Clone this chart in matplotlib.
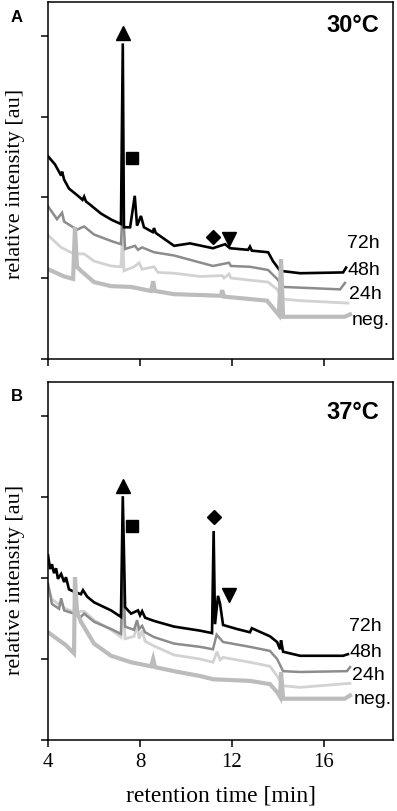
import matplotlib
matplotlib.use("Agg")
import matplotlib.pyplot as plt

# --- chromatogram traces (time [min], relative intensity) ---
# panel A, 30 C
a72_t = [4.0, 4.3, 4.57, 4.61, 4.7, 4.91, 5.3, 5.5, 5.57, 5.65, 5.83, 6.3, 6.78, 7.17, 7.25, 7.3, 7.57,
         7.77, 7.87, 8.04, 8.17, 8.55, 8.61, 8.68, 9.48, 10.17, 11.17, 11.7, 11.91, 12.7, 12.78, 12.86,
         13.57, 13.78, 14.09, 14.96, 16.83, 16.96]
a72_v = [2.51, 2.41, 2.27, 2.32, 2.22, 2.11, 2.02, 1.97, 2.01, 1.95, 1.91, 1.8, 1.72, 1.67, 3.91, 1.63, 1.63,
         2.02, 1.65, 1.77, 1.63, 1.57, 1.62, 1.56, 1.4, 1.43, 1.37, 1.42, 1.37, 1.35, 1.39, 1.34,
         1.32, 1.21, 1.09, 1.06, 1.07, 1.13]
a48_t = [4.0, 4.39, 4.61, 4.7, 5.26, 5.57, 6.0, 6.74, 7.17, 7.25, 7.35, 7.78, 7.91, 8.09, 8.61, 9.48,
         11.17, 11.87, 11.95, 12.78, 13.57, 13.96, 14.22, 16.7, 16.91]
a48_v = [1.89, 1.73, 1.81, 1.7, 1.6, 1.64, 1.54, 1.46, 1.42, 1.91, 1.36, 1.4, 1.35, 1.38, 1.32, 1.28,
         1.15, 1.19, 1.15, 1.14, 1.1, 0.99, 0.89, 0.86, 0.94]
a24_t = [4.0, 4.57, 5.13, 5.57, 6.0, 6.74, 7.17, 7.25, 7.3, 7.74, 7.96, 8.09, 8.61, 8.78, 9.48, 10.61,
         11.57, 11.65, 11.87, 11.95, 13.57, 13.96, 14.22, 14.96, 17.04]
a24_v = [1.53, 1.38, 1.3, 1.3, 1.21, 1.15, 1.14, 1.6, 1.09, 1.14, 1.19, 1.11, 1.14, 1.07, 1.06, 1.02,
         1.03, 1.0, 1.05, 1.0, 0.95, 0.86, 0.74, 0.72, 0.69]
aneg_t = [4.0, 4.7, 5.09, 5.17, 5.26, 5.43, 6.0, 6.74, 7.61, 8.48, 8.57, 8.65, 9.48, 10.61, 11.52, 11.57,
          11.65, 13.52, 13.78, 14.04, 14.13, 14.22, 16.9, 17.13]
aneg_v = [1.11, 1.02, 0.99, 1.63, 1.14, 1.09, 0.95, 0.9, 0.89, 0.84, 0.96, 0.84, 0.8, 0.79, 0.78, 0.85,
          0.77, 0.72, 0.63, 0.54, 1.23, 0.52, 0.52, 0.55]

# panel B, 37 C
b72_t = [4.0, 4.09, 4.17, 4.26, 4.35, 4.43, 4.57, 4.7, 4.78, 4.91, 5.13, 5.43, 5.52, 5.7, 6.0, 6.74, 7.17,
         7.25, 7.35, 7.61, 7.91, 8.0, 8.09, 8.22, 8.61, 9.48, 10.61, 11.13, 11.2, 11.26, 11.39, 11.48,
         11.61, 12.22, 12.78, 12.86, 13.65, 13.96, 14.09, 14.13, 14.22, 14.96, 16.83, 17.04]
b72_v = [2.28, 2.11, 2.17, 2.06, 2.12, 1.99, 2.05, 1.95, 2.01, 1.86, 1.83, 1.8, 1.85, 1.77, 1.7, 1.6, 1.52,
         3.01, 1.64, 1.56, 1.6, 1.54, 1.59, 1.51, 1.47, 1.4, 1.35, 1.32, 2.58, 1.43, 1.78, 1.68,
         1.42, 1.37, 1.33, 1.38, 1.28, 1.21, 1.12, 1.23, 1.09, 1.04, 1.04, 1.06]
b48_t = [4.0, 4.17, 4.48, 4.57, 4.7, 5.13, 5.43, 5.57, 6.0, 6.74, 7.17, 7.25, 7.35, 7.74, 7.87, 7.96, 8.09,
         8.22, 8.61, 9.48, 10.61, 11.17, 11.33, 11.61, 12.78, 13.65, 13.96, 14.22, 14.96, 17.0, 17.13]
b48_v = [1.93, 1.68, 1.62, 1.75, 1.6, 1.56, 1.52, 1.56, 1.46, 1.37, 1.31, 2.11, 1.4, 1.36, 1.48, 1.37, 1.41,
         1.33, 1.27, 1.19, 1.15, 1.12, 1.3, 1.21, 1.15, 1.1, 1.0, 0.85, 0.84, 0.85, 0.9]
b24_t = [4.0, 4.17, 4.43, 4.57, 4.7, 5.13, 5.57, 6.0, 6.74, 7.17, 7.25, 7.35, 7.74, 7.87, 7.96, 8.09, 8.22,
         8.61, 9.48, 10.61, 11.17, 11.35, 11.48, 11.61, 12.78, 13.65, 13.96, 14.22, 14.96, 17.13]
b24_v = [1.89, 1.74, 1.68, 1.7, 1.63, 1.58, 1.59, 1.48, 1.36, 1.27, 1.74, 1.25, 1.28, 1.42, 1.25, 1.35, 1.22,
         1.16, 1.05, 1.0, 0.96, 1.09, 0.99, 1.02, 0.96, 0.91, 0.79, 0.67, 0.65, 0.7]
bneg_t = [4.0, 4.39, 4.78, 5.13, 5.17, 5.26, 5.43, 6.0, 6.74, 7.61, 8.48, 8.57, 8.65, 9.48, 10.61, 11.17,
          12.78, 13.65, 13.96, 14.09, 14.13, 14.22, 16.9, 17.13]
bneg_v = [1.33, 1.25, 1.17, 1.07, 2.01, 1.58, 1.46, 1.19, 1.04, 0.96, 0.91, 1.0, 0.9, 0.85, 0.79, 0.75,
          0.73, 0.69, 0.59, 0.53, 0.84, 0.51, 0.51, 0.55]

series_names = ["72h", "48h", "24h", "neg."]
series_colors = ["black", "#8c8c8c", "#d2d2d2", "#bcbcbc"]
series_widths = [1.9, 1.8, 2.0, 3.0]

# label positions (left x, y) for each panel
labels_a = [(17.0, 1.44), (17.0, 1.11), (17.1, 0.81), (17.2, 0.49)]
labels_b = [(17.1, 1.41), (17.1, 1.09), (17.2, 0.81), (17.3, 0.51)]

# peak markers: (time, intensity)
marks_a = {"^": (7.26, 4.04), "s": (7.65, 2.49), "D": (11.17, 1.51), "v": (11.87, 1.49)}
marks_b = {"^": (7.26, 3.14), "s": (7.65, 2.64), "D": (11.22, 2.75), "v": (11.87, 1.79)}

serif = "Liberation Serif"
sans = "Liberation Sans"

fig = plt.figure(figsize=(3.97, 8.12), dpi=100)
ax_a = fig.add_axes([0.121, 0.557, 0.869, 0.439])
ax_b = fig.add_axes([0.121, 0.0874, 0.869, 0.441])

panels = [
    (ax_a, [(a72_t, a72_v), (a48_t, a48_v), (a24_t, a24_v), (aneg_t, aneg_v)], labels_a, marks_a,
     "30°C", 0.938, "A", 0.494),
    (ax_b, [(b72_t, b72_v), (b48_t, b48_v), (b24_t, b24_v), (bneg_t, bneg_v)], labels_b, marks_b,
     "37°C", 0.917, "B", 0.45),
]

for ax, traces, labs, marks, temp, temp_y, letter, ylab_y in panels:
    # draw 24h, 48h, 72h, then neg. on top
    for i in [2, 1, 0, 3]:
        t, v = traces[i]
        ax.plot(t, v, color=series_colors[i], lw=series_widths[i], solid_joinstyle="miter")
    for i, name in enumerate(series_names):
        ax.text(labs[i][0], labs[i][1], name, fontsize=14, family=sans, va="center", ha="left")
    ms = {"^": 9.5, "s": 8.5, "D": 7.5, "v": 9.5}
    for m, (x, y) in marks.items():
        ax.plot(x, y, marker=m, color="black", ms=ms[m], ls="none")
    ax.text(0.96, temp_y, temp, transform=ax.transAxes, fontsize=17, fontweight="bold",
            family=sans, ha="right", va="center")
    ax.set_xlim(4, 19)
    ax.set_ylim(0, 4.42)
    ax.set_xticks([4, 8, 12, 16])
    ax.set_yticks([0, 1, 2, 3, 4])
    ax.set_yticklabels([])
    ax.tick_params(direction="out", length=5, width=1.1)
    for s in ax.spines.values():
        s.set_linewidth(1.1)
    ax.set_ylabel("relative intensity [au]", fontsize=16, family=serif)
    ax.yaxis.set_label_coords(-0.066, ylab_y)
    fig.text(0.043, ax.get_position().y1 - 0.017, letter, fontsize=12, fontweight="bold",
             family=sans, ha="center", va="center")

ax_a.set_xticklabels([])
ax_b.set_xticklabels(["4", "8", "12", "16"], fontsize=15, family=serif)
ax_b.set_xlabel("retention time [min]", fontsize=17, family=serif, labelpad=10)

fig.savefig("out.png", dpi=100)
